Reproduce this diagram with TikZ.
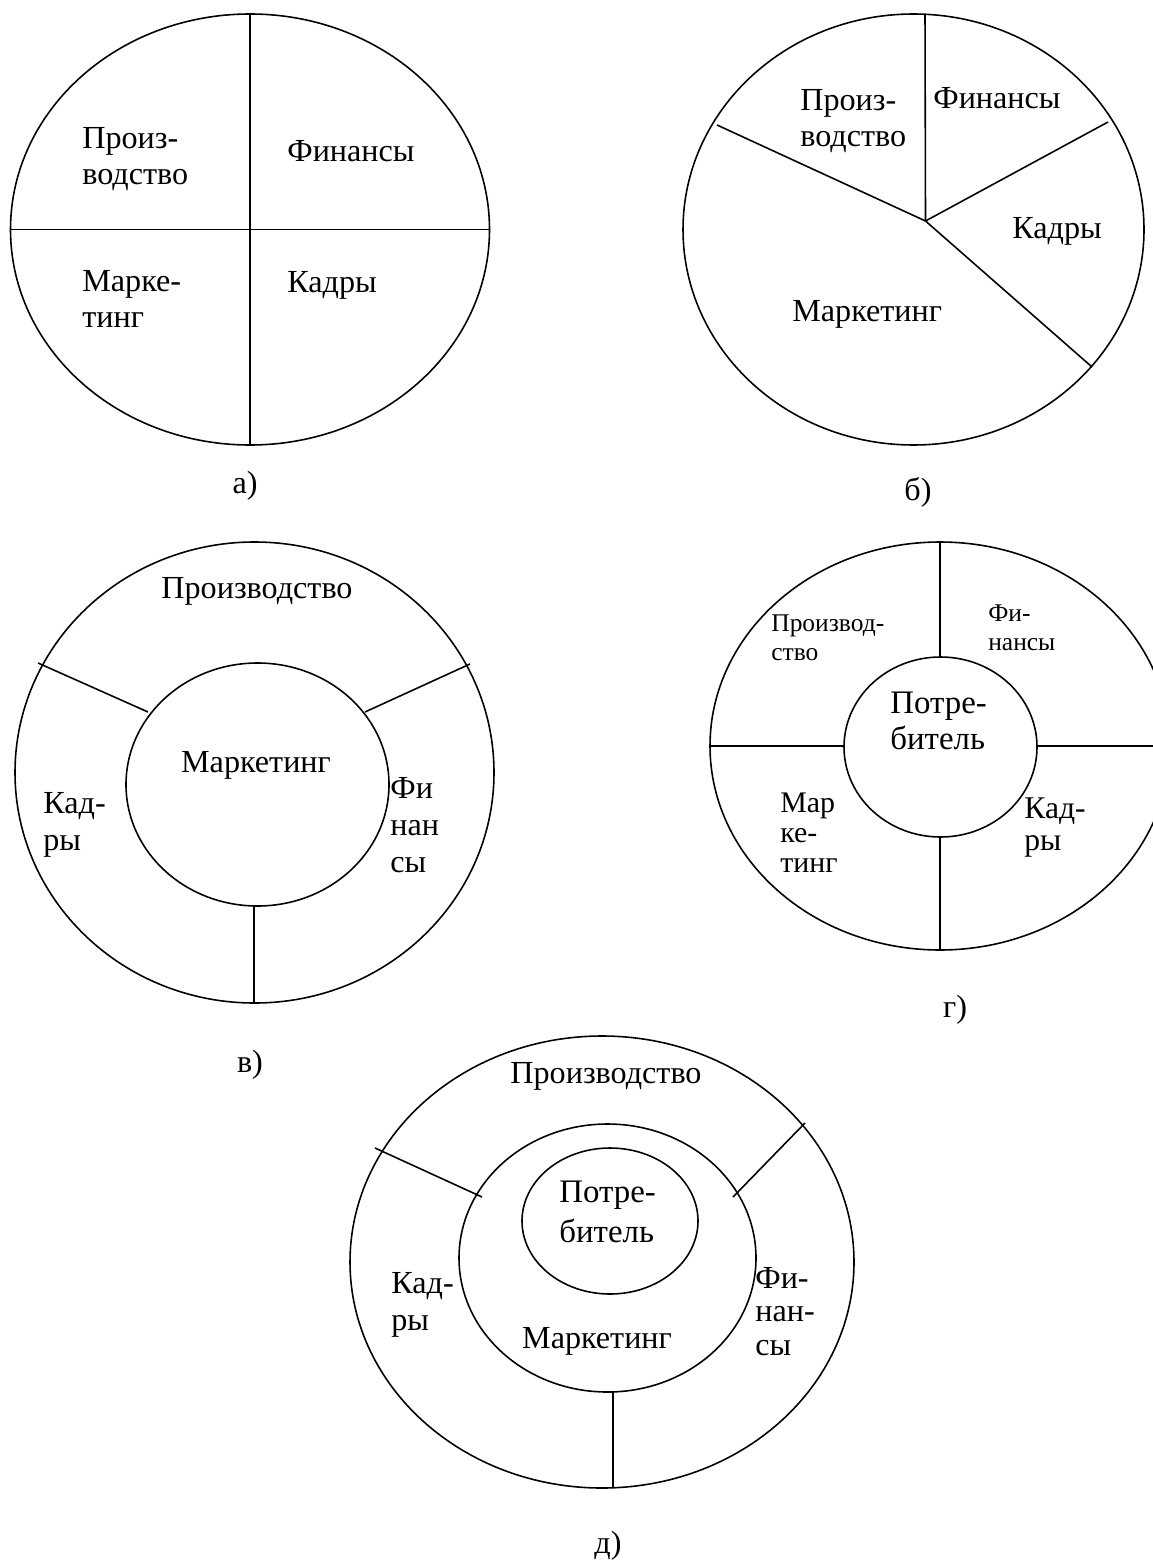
\documentclass[tikz,border=0pt]{standalone}
\usepackage{fontspec}
\setmainfont{Liberation Serif}
\usetikzlibrary{positioning}

\begin{document}
\begin{tikzpicture}
[x=0.02cm,y=-0.02cm,
inner sep=0pt,
ring/.style={draw,line width=0.9pt},
spoke/.style={draw,line width=0.9pt},
lbl/.style={font=\fontsize{18.3}{21}\selectfont,align=left},
midlbl/.style={font=\fontsize{17}{17}\selectfont,align=left},
smalllbl/.style={font=\fontsize{14.5}{16.2}\selectfont,align=left}]
\useasboundingbox (0,0) rectangle (1152,1564);

% а)
\coordinate (a-c) at (250,229.5);
\draw[ring] (a-c) ellipse [x radius=239.5,y radius=215.5];
\draw[spoke] (250,14) -- (250,445);
\draw[spoke] (10.5,229.5) -- (489.5,229.5);
\node[lbl,anchor=base west] (a-prod) at (82,185) {Произ-\\водство};
\node[lbl,anchor=base west] (a-fin) at (287,162) {Финансы};
\node[lbl,anchor=base west] (a-mark) at (82,328) {Марке-\\тинг};
\node[lbl,anchor=base west] (a-kadr) at (287,293) {Кадры};
\node[lbl,anchor=base] (a-cap) at (245,493) {а)};

% б)
\coordinate (b-c) at (913.5,229.5);
\coordinate (b-hub) at (925.5,221);
\draw[ring] (b-c) ellipse [x radius=230.5,y radius=215.5];
\draw[spoke] (b-hub) -- (925,14);
\draw[spoke] (b-hub) -- (717,125);
\draw[spoke] (b-hub) -- (1108,122);
\draw[spoke] (b-hub) -- (1092,367);
\node[lbl,anchor=base west] (b-prod) at (800,147) {Произ-\\водство};
\node[lbl,anchor=base west] (b-fin) at (933,109) {Финансы};
\node[lbl,anchor=base west] (b-kadr) at (1012,239) {Кадры};
\node[lbl,anchor=base west] (b-mark) at (792,321) {Маркетинг};
\node[lbl,anchor=base] (b-cap) at (918,500) {б)};

% в)
\coordinate (v-c) at (254.5,772.5);
\coordinate (v-in) at (257.5,784.5);
\draw[ring] (v-c) ellipse [x radius=239.5,y radius=230.5];
\draw[ring] (v-in) ellipse [x radius=131.5,y radius=121.5];
\draw[spoke] (38,663) -- (148,712);
\draw[spoke] (470,664) -- (365,712);
\draw[spoke] (254,906) -- (254,1003);
\node[lbl,anchor=base] (v-prod) at (257,598) {Производство};
\node[lbl,anchor=base] (v-mark) at (256,772) {Маркетинг};
\node[lbl,anchor=base west] (v-kadr) at (43,850) {Кад-\\ры};
\node[lbl,anchor=base west] (v-fin) at (390,872) {Фи\\нан\\сы};
\node[lbl,anchor=base] (v-cap) at (250,1072) {в)};

% г)
\coordinate (g-c) at (940,746);
\coordinate (g-in) at (940.5,747);
\draw[ring] (g-c) ellipse [x radius=230,y radius=204];
\draw[ring] (g-in) ellipse [x radius=96.5,y radius=90];
\draw[spoke] (940,542) -- (940,657);
\draw[spoke] (940,837) -- (940,950);
\draw[spoke] (710,746) -- (844,746);
\draw[spoke] (1037,746) -- (1170,746);
\node[smalllbl,anchor=base west] (g-prod) at (771,660) {Производ-\\ство};
\node[smalllbl,anchor=base west] (g-fin) at (988,650) {Фи-\\нансы};
\node[lbl,anchor=base west,font=\fontsize{18.7}{20.4}\selectfont] (g-potr) at (890,749) {Потре-\\битель};
\node[midlbl,anchor=base west] (g-mark) at (780,872) {Мар\\ке-\\тинг};
\node[lbl,anchor=base west,font=\fontsize{18}{18}\selectfont] (g-kadr) at (1024,850) {Кад-\\ры};
\node[lbl,anchor=base] (g-cap) at (955,1017) {г)};

% д)
\coordinate (d-c) at (602,1262);
\coordinate (d-mid) at (607.5,1258);
\coordinate (d-in) at (610,1221);
\draw[ring] (d-c) ellipse [x radius=252,y radius=226];
\draw[ring] (d-mid) ellipse [x radius=148.5,y radius=134];
\draw[ring] (d-in) ellipse [x radius=88,y radius=73];
\draw[spoke] (375,1148) -- (482,1197);
\draw[spoke] (805,1123) -- (733,1197);
\draw[spoke] (613,1392) -- (613,1488);
\node[lbl,anchor=base] (d-prod) at (606,1083) {Производство};
\node[lbl,anchor=base west,font=\fontsize{18.7}{22.5}\selectfont] (d-potr) at (559,1242) {Потре-\\битель};
\node[lbl,anchor=base] (d-mark) at (597,1348) {Маркетинг};
\node[lbl,anchor=base west] (d-kadr) at (391,1330) {Кад-\\ры};
\node[lbl,anchor=base west,font=\fontsize{18.3}{19}\selectfont] (d-fin) at (755,1355) {Фи-\\нан-\\сы};
\node[lbl,anchor=base] (d-cap) at (608,1553) {д)};
\end{tikzpicture}
\end{document}
